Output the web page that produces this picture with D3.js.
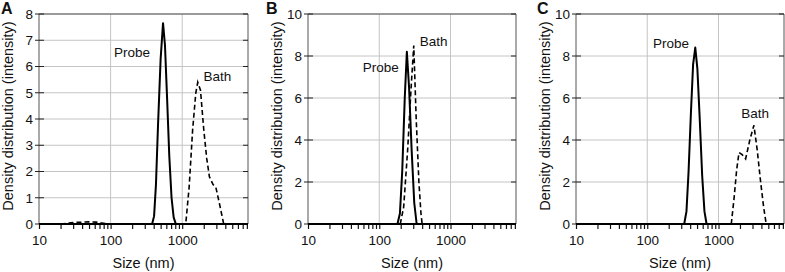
<!DOCTYPE html>
<html>
<head>
<meta charset="utf-8">
<script src="https://cdn.jsdelivr.net/npm/d3@7"></script>
<style>
  body { margin: 0; background: #fff; }
  text { font-family: Arial, 'Liberation Sans', sans-serif; fill: #111; }
</style>
</head>
<body>
<div id="chart"></div>
<script>
// size (nm) / density pairs
const probeA = [[10, 0], [380, 0], [405, 0.3], [430, 1.5], [460, 3.8], [500, 6.3], [540, 7.65], [575, 6.8], [615, 4.8], [660, 2.6], [710, 1.0], [760, 0.25], [815, 0], [8300, 0]]
const bathA = [[20, 0], [25, 0.03], [32, 0.06], [40, 0.07], [50, 0.08], [63, 0.07], [75, 0.04], [90, 0], [1120, 0], [1250, 1.4], [1400, 3.6], [1550, 5.0], [1650, 5.4], [1800, 5.1], [2000, 3.6], [2200, 2.5], [2400, 1.8], [2700, 1.5], [2950, 1.4], [3300, 0.8], [3800, 0]]

const probeB = [[10, 0], [180, 0], [195, 0.5], [210, 2.5], [228, 6.0], [244, 8.2], [262, 6.5], [285, 3.5], [310, 1.0], [335, 0], [8300, 0]]
const bathB = [[197, 0], [220, 0.8], [250, 3.5], [280, 6.5], [305, 8.5], [330, 5.0], [360, 2.0], [385, 0.5], [400, 0]]

const probeC = [[10, 0], [330, 0], [355, 0.6], [380, 2.5], [410, 5.3], [440, 7.6], [472, 8.4], [505, 7.4], [545, 5.0], [590, 2.3], [635, 0.6], [680, 0], [8300, 0]]
const bathC = [[1510, 0], [1650, 1.2], [1800, 2.6], [1940, 3.4], [2150, 3.3], [2400, 3.1], [2750, 4.0], [3140, 4.7], [3500, 3.5], [3900, 2.0], [4300, 0.8], [4670, 0]]

const xTicks = [10, 100, 1000]
const yTicksA = [0, 1, 2, 3, 4, 5, 6, 7, 8]
const yTicksBC = [0, 2, 4, 6, 8, 10]

// label anchors in data units [size, density]
const labelsA = [['Probe', 199, 6.55], ['Bath', 3110, 5.64]]
const labelsB = [['Probe', 105, 7.48], ['Bath', 580, 8.71]]
const labelsC = [['Probe', 215, 8.62], ['Bath', 3270, 5.29]]

const panels = [
  { letter: 'A', left: 39, right: 248, letterX: 1, yMax: 8, yTicks: yTicksA, probe: probeA, bath: bathA, labels: labelsA },
  { letter: 'B', left: 308, right: 516, letterX: 266, yMax: 10, yTicks: yTicksBC, probe: probeB, bath: bathB, labels: labelsB },
  { letter: 'C', left: 576, right: 784, letterX: 537, yMax: 10, yTicks: yTicksBC, probe: probeC, bath: bathC, labels: labelsC },
]

const plotTop = 14
const plotBottom = 224

const svg = d3.select('#chart')
  .append('svg')
  .attr('width', 785)
  .attr('height', 272)

panels.forEach(p => renderPanel(p))

function renderPanel({ letter, left, right, letterX, yMax, yTicks, probe, bath, labels }) {
  const x = d3.scaleLog().domain([10, 8300]).range([left, right])
  const y = d3.scaleLinear().domain([0, yMax]).range([plotBottom, plotTop])

  const g = svg.append('g')

  // grid
  g.append('g')
    .selectAll('line')
    .data(yTicks)
    .join('line')
    .attr('x1', left).attr('x2', right)
    .attr('y1', d => y(d)).attr('y2', d => y(d))
    .attr('stroke', '#c4c4c4')
    .attr('stroke-width', 1)
  g.append('g')
    .selectAll('line')
    .data(xTicks.slice(1))
    .join('line')
    .attr('x1', d => x(d)).attr('x2', d => x(d))
    .attr('y1', plotTop).attr('y2', plotBottom)
    .attr('stroke', '#c4c4c4')
    .attr('stroke-width', 1)

  // frame (top / right / left)
  g.append('path')
    .attr('d', `M${left},${plotBottom}V${plotTop}H${right}V${plotBottom}`)
    .attr('fill', 'none')
    .attr('stroke', '#555')
    .attr('stroke-width', 1)

  // y ticks, both sides
  g.append('g')
    .selectAll('line')
    .data(yTicks)
    .join('line')
    .attr('x1', left - 4).attr('x2', left + 5)
    .attr('y1', d => y(d)).attr('y2', d => y(d))
    .attr('stroke', '#222')
  g.append('g')
    .selectAll('line')
    .data(yTicks)
    .join('line')
    .attr('x1', right - 5).attr('x2', right)
    .attr('y1', d => y(d)).attr('y2', d => y(d))
    .attr('stroke', '#222')

  g.append('g')
    .selectAll('text')
    .data(yTicks)
    .join('text')
    .attr('x', left - 6)
    .attr('y', d => y(d))
    .attr('dy', '0.36em')
    .attr('text-anchor', 'end')
    .attr('font-size', 13.5)
    .text(d => d)

  // x axis (log, minor ticks)
  const xAxis = d3.axisBottom(x)
    .tickValues(x.ticks().filter(d => d < 8300))
    .tickSize(5)
    .tickFormat(d => (xTicks.includes(d) ? d : ''))
  const ax = g.append('g')
    .attr('transform', `translate(0,${plotBottom})`)
    .call(xAxis)
  ax.select('.domain').remove()
  ax.selectAll('.tick line').attr('stroke', '#111').attr('stroke-width', 1.2)
  ax.selectAll('.tick text')
    .attr('font-size', 13.5)
    .attr('font-family', 'Arial, Liberation Sans, sans-serif')
    .attr('fill', '#111')
    .attr('y', 11)
  g.append('line')
    .attr('x1', left).attr('x2', right)
    .attr('y1', plotBottom).attr('y2', plotBottom)
    .attr('stroke', '#000')
    .attr('stroke-width', 2)

  // curves
  const line = d3.line().x(d => x(d[0])).y(d => y(d[1]))
  g.append('path')
    .datum(bath)
    .attr('d', line)
    .attr('fill', 'none')
    .attr('stroke', '#000')
    .attr('stroke-width', 1.6)
    .attr('stroke-dasharray', '5,3')
  g.append('path')
    .datum(probe)
    .attr('d', line)
    .attr('fill', 'none')
    .attr('stroke', '#000')
    .attr('stroke-width', 2)
    .attr('stroke-linejoin', 'round')

  // annotations
  g.append('g')
    .selectAll('text')
    .data(labels)
    .join('text')
    .attr('x', d => x(d[1]))
    .attr('y', d => y(d[2]))
    .attr('dy', '0.36em')
    .attr('text-anchor', 'middle')
    .attr('font-size', 13.5)
    .text(d => d[0])

  // titles
  g.append('text')
    .attr('transform', `translate(${left - 26},${(plotTop + plotBottom) / 2 - 3}) rotate(-90)`)
    .attr('text-anchor', 'middle')
    .attr('font-size', 14.5)
    .text('Density distribution (intensity)')
  g.append('text')
    .attr('x', (left + right) / 2)
    .attr('y', 268)
    .attr('text-anchor', 'middle')
    .attr('font-size', 14.5)
    .text('Size (nm)')
  g.append('text')
    .attr('x', letterX)
    .attr('y', 14)
    .attr('font-size', 16)
    .attr('font-weight', 'bold')
    .text(letter)
}
</script>
</body>
</html>
